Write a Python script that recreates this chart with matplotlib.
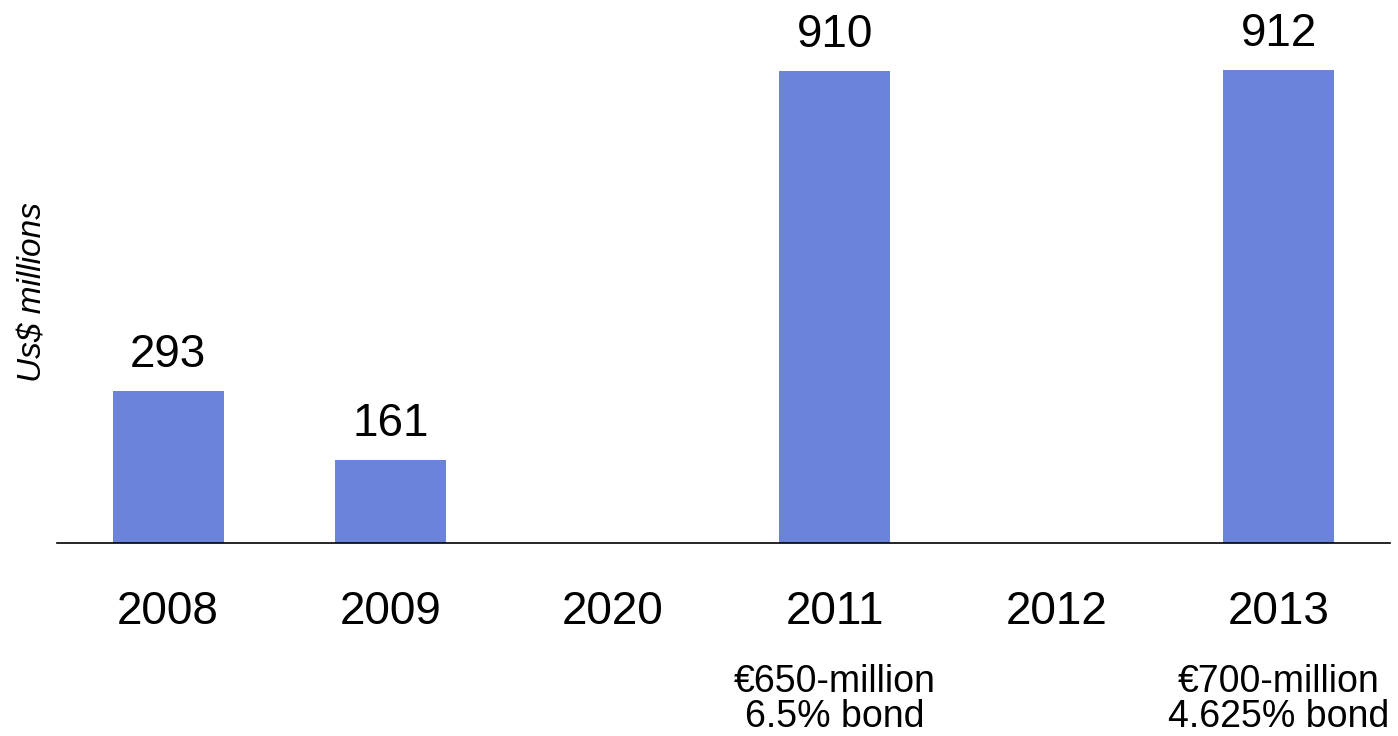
import numpy as np
import matplotlib
matplotlib.use("Agg")
from matplotlib import pyplot as plt

plt.rcParams['font.family'] = ['Liberation Sans', 'DejaVu Sans']

# Data
years = ["2008", "2009", "2020", "2011", "2012", "2013"]
values = [293, 161, np.nan, 910, np.nan, 912]
value_labels = ["293", "161", "", "910", "", "912"]
notes = {"2011": "€650-million\n6.5% bond", "2013": "€700-million\n4.625% bond"}

bar_color = "#6b84d9"

fig = plt.figure(figsize=(13.98, 7.36), dpi=100)
ax = fig.add_axes([57 / 1398, (736 - 543) / 736, (1390 - 57) / 1398, 543 / 736])

x = np.arange(len(years))
bars = ax.bar(x, values, width=0.5, color=bar_color)
ax.bar_label(bars, labels=value_labels, padding=10, fontsize=33)

ax.set_xlim(-0.5, len(years) - 0.5)
ax.set_ylim(0, 1047)
ax.set_xticks(x, years, fontsize=33)
ax.tick_params(axis='x', length=0, pad=34)
ax.set_yticks([])

for s in ["top", "right", "left"]:
    ax.spines[s].set_visible(False)
ax.spines["bottom"].set_linewidth(1.2)

# bond notes under the year labels
for i, yr in enumerate(years):
    if yr in notes:
        ax.annotate(notes[yr], xy=(i, 0), xycoords=ax.get_xaxis_transform(),
                    xytext=(0, -87), textcoords='offset points',
                    ha='center', va='top', fontsize=27, linespacing=0.98,
                    annotation_clip=False)

fig.text(33 / 1398, 1 - 292 / 736, "Us$ millions", rotation=90, style='italic',
         fontsize=24, ha='center', va='center')

fig.savefig("out.png", dpi=100)
